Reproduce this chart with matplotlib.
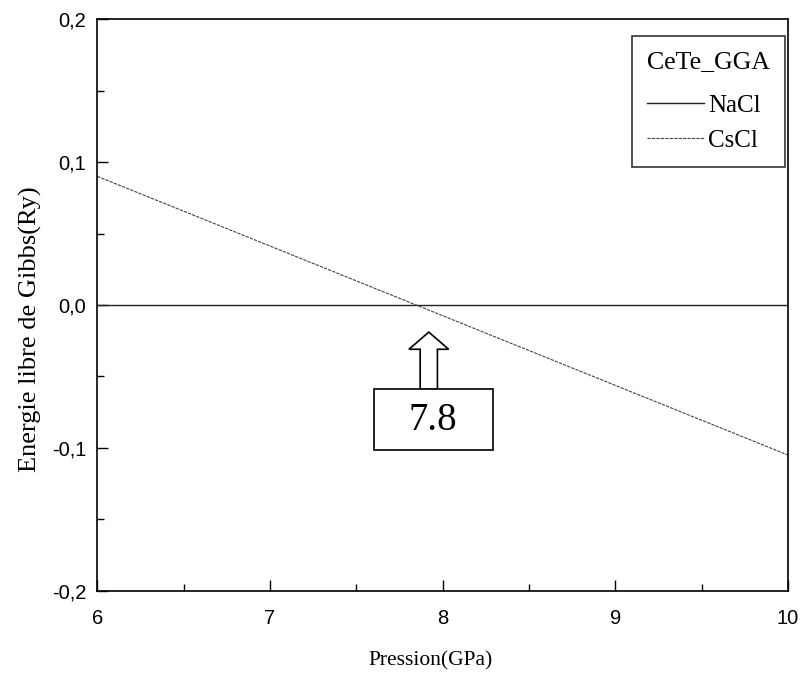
import matplotlib
matplotlib.use("Agg")
import matplotlib.pyplot as plt
from matplotlib.patches import FancyArrow, Rectangle
from matplotlib.ticker import MultipleLocator, FuncFormatter

pressure = [6, 10]
nacl = [0.0, 0.0]
cscl = [0.09, -0.105]
transition = 7.8

fig = plt.figure(figsize=(8.04, 6.83), dpi=100)
ax = fig.add_axes([0.121, 0.135, 0.859, 0.837])

ax.plot(pressure, nacl, color='#222222', lw=1.0, label='NaCl')
ax.plot(pressure, cscl, color='#444444', lw=0.8, ls=(0, (3, 1)), label='CsCl')

ax.set_xlim(6, 10)
ax.set_ylim(-0.2, 0.2)
ax.xaxis.set_major_locator(MultipleLocator(1))
ax.xaxis.set_minor_locator(MultipleLocator(0.5))
ax.yaxis.set_major_locator(MultipleLocator(0.1))
ax.yaxis.set_minor_locator(MultipleLocator(0.05))
ax.yaxis.set_major_formatter(FuncFormatter(lambda v, p: f"{v:.1f}".replace('.', ',').replace('-0,0', '0,0')))
ax.tick_params(which='both', direction='in', top=False, right=False)
ax.tick_params(which='major', length=8, width=1, labelsize=14.5)
ax.tick_params(axis='x', which='major', pad=13)
ax.tick_params(axis='y', which='major', pad=8)
ax.tick_params(which='minor', length=5, width=1)
for lab in ax.get_xticklabels() + ax.get_yticklabels():
    lab.set_fontfamily('Liberation Sans')
for s in ax.spines.values():
    s.set_linewidth(1.2)

ax.set_xlabel('Pression(GPa)', fontfamily='Liberation Serif', fontsize=15.5)
ax.set_ylabel('Energie libre de Gibbs(Ry)', fontfamily='Liberation Serif', fontsize=19)
ax.xaxis.set_label_coords(0.482, -0.105)
ax.yaxis.set_label_coords(-0.080, 0.457)

# arrow and box annotation
ax.add_patch(FancyArrow(7.92, -0.059, 0, 0.040, width=0.1, head_width=0.23,
                        head_length=0.012, length_includes_head=True,
                        facecolor='white', edgecolor='black', lw=1.2, zorder=3))
ax.add_patch(Rectangle((7.60, -0.1016), 0.69, 0.0426, facecolor='white',
                       edgecolor='black', lw=1.2, zorder=4))
ax.text(7.945, -0.081, f"{transition}", ha='center', va='center',
        fontfamily='Liberation Serif', fontsize=28, zorder=5)

leg = ax.legend(title='CeTe_GGA', loc='upper right', bbox_to_anchor=(0.9957, 0.970),
                borderaxespad=0, frameon=True, fancybox=False, edgecolor='black',
                prop={'family': 'Liberation Serif', 'size': 18},
                handlelength=2.3, handletextpad=0.15, borderpad=0.6, labelspacing=0.5)
leg.get_title().set_fontfamily('Liberation Serif')
leg.get_title().set_fontsize(18.5)
leg._legend_box.align = 'left'
leg._legend_box.sep = 15
leg.get_frame().set_linewidth(1.2)

fig.savefig('out.png', dpi=100)
